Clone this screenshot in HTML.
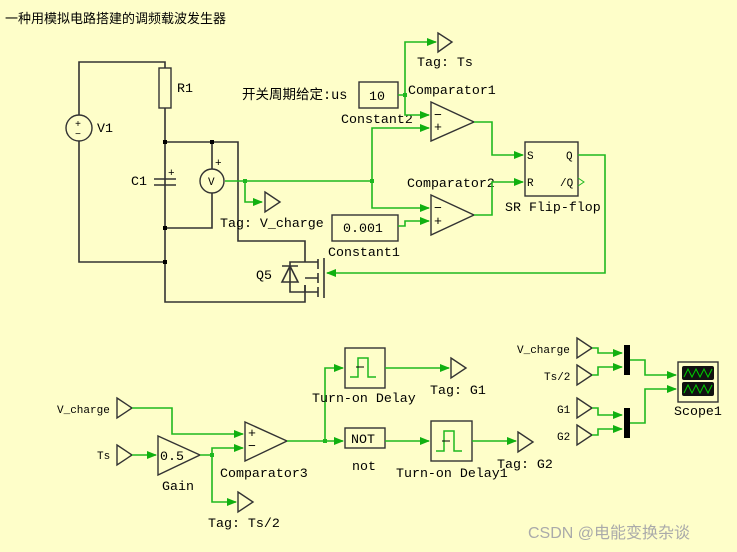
<!DOCTYPE html>
<html><head><meta charset="utf-8"><style>
html,body{margin:0;padding:0;background:#fefec9}
svg{display:block}
text{font-family:"Liberation Mono","Noto Sans CJK SC",monospace;font-size:13.3px;fill:#000}
.k{stroke:#333;stroke-width:1.6;fill:none}
.g{stroke:#1fb81f;stroke-width:1.6;fill:none}
.b{stroke:#333;stroke-width:1.4;fill:#fefec9}
.s{font-size:11px}
.ah{fill:#10b010}
</style></head><body>
<svg width="737" height="552" viewBox="0 0 737 552">
<defs><marker id="a" markerWidth="10" markerHeight="8" refX="9" refY="4" orient="auto" markerUnits="userSpaceOnUse"><path d="M0,0L10,4L0,8z" class="ah"/></marker></defs>
<text x="5" y="23" style="font-family:'Liberation Sans','Noto Sans CJK SC',sans-serif;font-size:13px">一种用模拟电路搭建的调频载波发生器</text>
<!-- circuit -->
<path class="k" d="M79,115V62H165V68M165,108V302H305V285M79,141V262H165M165,142H238V241H305V258M212,142V169M212,193V228H165M165,172V179M165,186V228"/>
<rect x="159" y="68" width="12" height="40" class="b"/>
<circle cx="79" cy="128" r="13" class="b"/><text x="75" y="127" style="font-size:10px">+</text><text x="75" y="137" style="font-size:10px">−</text>
<text x="97" y="132">V1</text><text x="177" y="92">R1</text><text x="131" y="185">C1</text>
<path class="k" d="M154,179H176M154,185H176"/><text x="168" y="176" style="font-size:11px">+</text>
<circle cx="212" cy="181" r="12" class="b"/><text x="208" y="185" style="font-size:11px">V</text><text x="215" y="166" style="font-size:11px">+</text>
<g fill="#000"><rect x="163" y="140" width="4" height="4"/><rect x="210" y="140" width="4" height="4"/><rect x="163" y="226" width="4" height="4"/><rect x="163" y="260" width="4" height="4"/></g>
<!-- mosfet -->
<path class="k" d="M305,258V262H290V292H305V285M305,262H318M305,292H318M282,266H298M290,266L282,282H298Z M318,259V269M318,273V283M318,287V297M305,278H318M324,258V298"/>
<text x="256" y="279">Q5</text>
<!-- green top -->
<path class="g" d="M225,181H372"/>
<path class="g" d="M245,181V202H262" marker-end="url(#a)"/>
<path d="M265,192L280,202L265,212Z" class="b"/>
<text x="220" y="227">Tag: V_charge</text>
<path class="g" d="M372,181V128H429" marker-end="url(#a)"/>
<path class="g" d="M372,181V208H429" marker-end="url(#a)"/>
<rect x="243" y="179" width="4" height="4" fill="#1fb81f"/><rect x="370" y="179" width="4" height="4" fill="#1fb81f"/>
<rect x="359" y="82" width="39" height="26" class="b"/><text x="369" y="100">10</text>
<text x="242" y="99" style="font-size:13.5px">开关周期给定:us</text>
<text x="341" y="123">Constant2</text>
<path class="g" d="M398,95H405V42H436" marker-end="url(#a)"/>
<path class="g" d="M405,95V115H429" marker-end="url(#a)"/>
<rect x="403" y="93" width="4" height="4" fill="#1fb81f"/>
<path d="M438,33L452,42L438,52Z" class="b"/><text x="417" y="66">Tag: Ts</text>
<path d="M431,102L474,122L431,141Z" class="b"/><text x="434" y="119">−</text><text x="434" y="131">+</text>
<text x="408" y="94">Comparator1</text>
<path d="M431,195L474,215L431,235Z" class="b"/><text x="434" y="212">−</text><text x="434" y="225">+</text>
<text x="407" y="187">Comparator2</text>
<rect x="332" y="215" width="66" height="26" class="b"/><text x="343" y="232">0.001</text>
<text x="328" y="256">Constant1</text>
<path class="g" d="M398,226H405V221H429" marker-end="url(#a)"/>
<path class="g" d="M474,122H492V155H523" marker-end="url(#a)"/>
<path class="g" d="M474,215H492V182H523" marker-end="url(#a)"/>
<rect x="525" y="142" width="53" height="54" class="b"/>
<text x="527" y="159" style="font-size:11px">S</text><text x="527" y="186" style="font-size:11px">R</text>
<text x="566" y="159" style="font-size:11px">Q</text><text x="560" y="186" style="font-size:11px">/Q</text>
<path d="M578,178L584,182L578,186" stroke="#1fb81f" fill="none"/>
<text x="505" y="211">SR Flip-flop</text>
<path class="g" d="M578,155H605V273H327" marker-end="url(#a)"/>
<!-- bottom -->
<path d="M117,398L132,408L117,418Z" class="b"/><text x="57" y="413" class="s">V_charge</text>
<path d="M117,445L132,455L117,465Z" class="b"/><text x="97" y="459" class="s">Ts</text>
<path class="g" d="M132,408H172V434H243" marker-end="url(#a)"/>
<path class="g" d="M132,455H156" marker-end="url(#a)"/>
<path d="M158,436L200,455L158,475Z" class="b"/><text x="160" y="460">0.5</text><text x="162" y="490">Gain</text>
<path class="g" d="M200,455H212V448H243" marker-end="url(#a)"/>
<path class="g" d="M212,455V502H236" marker-end="url(#a)"/>
<rect x="210" y="453" width="4" height="4" fill="#1fb81f"/>
<path d="M238,492L253,502L238,512Z" class="b"/><text x="208" y="527">Tag: Ts/2</text>
<path d="M245,422L287,441L245,461Z" class="b"/><text x="248" y="437">+</text><text x="248" y="450">−</text>
<text x="220" y="477">Comparator3</text>
<path class="g" d="M287,441H343" marker-end="url(#a)"/>
<path class="g" d="M325,441V368H343" marker-end="url(#a)"/>
<rect x="323" y="439" width="4" height="4" fill="#1fb81f"/>
<rect x="345" y="348" width="40" height="40" class="b"/>
<path d="M350,377H358V358H368V377H376" stroke="#1fb81f" stroke-width="1.5" fill="none"/><path d="M356,367H364" stroke="#000"/>
<text x="312" y="402">Turn-on Delay</text>
<path class="g" d="M385,368H449" marker-end="url(#a)"/>
<path d="M451,358L466,368L451,378Z" class="b"/><text x="430" y="394">Tag: G1</text>
<rect x="345" y="428" width="40" height="20" class="b"/><text x="351" y="443">NOT</text><text x="352" y="470">not</text>
<path class="g" d="M385,441H429" marker-end="url(#a)"/>
<rect x="431" y="421" width="41" height="40" class="b"/>
<path d="M436,451H444V431H454V451H462" stroke="#1fb81f" stroke-width="1.5" fill="none"/><path d="M442,441H450" stroke="#000"/>
<text x="396" y="477">Turn-on Delay1</text>
<path class="g" d="M472,441H516" marker-end="url(#a)"/>
<path d="M518,432L533,442L518,452Z" class="b"/><text x="497" y="468">Tag: G2</text>
<!-- scope -->
<path d="M577,338L592,348L577,358Z" class="b"/><text x="517" y="353" class="s">V_charge</text>
<path d="M577,365L592,375L577,385Z" class="b"/><text x="544" y="380" class="s">Ts/2</text>
<path d="M577,398L592,408L577,418Z" class="b"/><text x="557" y="413" class="s">G1</text>
<path d="M577,425L592,435L577,445Z" class="b"/><text x="557" y="440" class="s">G2</text>
<path class="g" d="M592,348H598V353H622" marker-end="url(#a)"/>
<path class="g" d="M592,375H598V367H622" marker-end="url(#a)"/>
<path class="g" d="M592,408H598V415H622" marker-end="url(#a)"/>
<path class="g" d="M592,435H598V429H622" marker-end="url(#a)"/>
<rect x="624" y="345" width="6" height="30" fill="#000"/><rect x="624" y="408" width="6" height="30" fill="#000"/>
<path class="g" d="M630,360H645V375H676" marker-end="url(#a)"/>
<path class="g" d="M630,423H645V389H676" marker-end="url(#a)"/>
<rect x="678" y="362" width="40" height="40" class="b"/>
<rect x="682" y="366" width="32" height="14" rx="2" fill="#111"/><rect x="682" y="382" width="32" height="14" rx="2" fill="#111"/>
<path d="M684,377l4,-8l4,8l4,-8l4,8l4,-8l4,8l4,-8" stroke="#0c0" fill="none"/>
<path d="M684,393l4,-8l4,8l4,-8l4,8l4,-8l4,8l4,-8" stroke="#0c0" fill="none"/>
<text x="674" y="415">Scope1</text>
<text x="528" y="538" style="font-family:'Liberation Sans','Noto Sans CJK SC',sans-serif;font-size:16px;fill:#aaa">CSDN @电能变换杂谈</text>
</svg>
</body></html>
